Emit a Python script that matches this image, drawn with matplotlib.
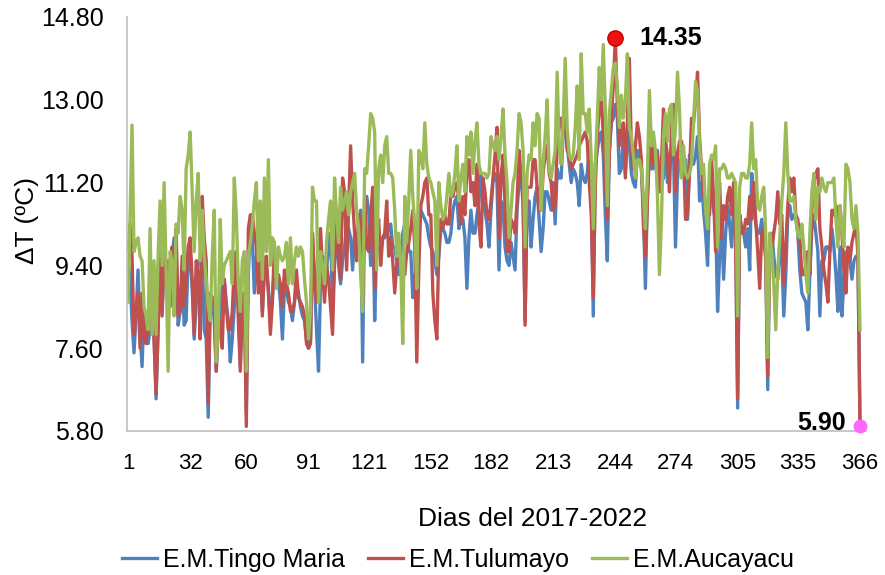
import matplotlib
matplotlib.use("Agg")
import matplotlib.pyplot as plt
import numpy as np

plt.rcParams['font.family'] = ['Liberation Sans', 'DejaVu Sans']

# daily values, day 1..366 (10 per row)
tingo = [
    9.5, 9.1, 8.2, 7.5, 8.3, 9.3, 8.0, 7.2, 8.4, 7.8,
    7.7, 8.0, 8.8, 7.8, 6.5, 8.0, 10.1, 8.4, 9.6, 9.4,
    9.0, 8.5, 9.6, 10.0, 9.7, 8.1, 8.4, 9.3, 8.1, 8.2,
    9.6, 9.6, 8.9, 7.8, 8.6, 9.5, 9.5, 9.7, 8.0, 7.8,
    6.1, 8.5, 8.7, 8.2, 7.1, 8.0, 8.3, 8.9, 9.1, 8.6,
    8.2, 7.3, 7.8, 8.5, 9.5, 9.0, 7.2, 8.6, 8.8, 6.2,
    9.2, 10.3, 10.0, 8.8, 9.6, 9.0, 9.4, 8.4, 9.2, 9.3,
    8.9, 8.2, 8.7, 9.4, 9.0, 9.1, 8.6, 7.8, 8.9, 8.9,
    8.6, 8.5, 8.2, 8.6, 9.0, 8.8, 8.5, 8.3, 8.2, 7.8,
    7.6, 7.8, 10.0, 9.0, 8.0, 7.1, 9.0, 9.6, 9.4, 9.3,
    9.8, 10.1, 8.5, 9.5, 10.1, 9.4, 9.0, 9.5, 9.8, 10.3,
    10.2, 10.0, 9.3, 10.1, 9.7, 9.9, 10.6, 7.3, 10.6, 10.9,
    10.6, 9.4, 10.9, 8.2, 9.8, 9.7, 9.7, 10.0, 10.0, 10.1,
    10.2, 10.3, 9.8, 9.8, 9.5, 9.2, 9.6, 10.1, 10.3, 10.2,
    9.7, 9.7, 8.7, 9.2, 8.8, 10.7, 10.6, 10.5, 10.4, 10.3,
    10.0, 9.8, 9.7, 9.5, 9.2, 9.6, 10.2, 10.2, 10.1, 9.9,
    9.9, 10.1, 10.6, 10.8, 10.9, 10.2, 10.5, 10.4, 10.0, 8.9,
    10.0, 10.6, 10.1, 10.1, 10.5, 10.8, 11.4, 10.8, 10.6, 10.3,
    9.8, 10.6, 11.2, 11.4, 11.2, 9.3, 10.8, 10.7, 9.8, 9.5,
    9.4, 9.9, 9.6, 9.3, 10.6, 11.2, 11.4, 10.7, 8.2, 10.6,
    10.8, 9.8, 10.4, 10.9, 11.1, 10.4, 9.7, 10.2, 11.0, 11.0,
    10.8, 10.6, 11.2, 10.3, 11.5, 11.3, 11.3, 12.3, 12.6, 12.0,
    11.6, 11.2, 11.5, 11.4, 11.2, 10.7, 11.6, 11.3, 11.2, 11.4,
    11.9, 11.0, 8.3, 11.6, 11.9, 12.2, 12.3, 11.8, 10.5, 9.5,
    11.9, 12.5, 12.6, 12.9, 12.6, 11.4, 11.5, 12.3, 11.4, 12.3,
    12.0, 11.4, 11.2, 11.1, 11.9, 11.7, 11.5, 10.6, 8.9, 10.9,
    12.0, 11.5, 11.5, 11.7, 11.9, 11.2, 11.2, 11.3, 12.1, 11.2,
    11.6, 11.7, 11.9, 9.8, 11.3, 11.7, 11.6, 11.4, 11.7, 10.4,
    11.8, 11.7, 11.6, 11.8, 12.2, 10.8, 11.2, 10.6, 10.1, 9.4,
    11.1, 11.0, 10.6, 10.4, 8.4, 9.6, 10.3, 9.1, 10.1, 10.7,
    10.3, 9.8, 10.7, 10.2, 6.3, 10.5, 10.1, 10.1, 9.8, 10.2,
    9.3, 11.4, 11.0, 10.3, 10.1, 10.1, 10.4, 10.0, 9.6, 6.7,
    9.8, 10.1, 9.6, 9.2, 9.1, 9.9, 9.6, 8.3, 9.2, 10.5,
    10.7, 10.4, 10.5, 10.4, 10.1, 9.3, 8.8, 8.7, 8.6, 8.0,
    9.2, 10.2, 10.5, 10.1, 9.7, 8.3, 9.5, 9.5, 9.8, 9.8,
    9.7, 10.2, 9.8, 9.2, 8.4, 9.8, 8.3, 9.1, 9.7, 9.5,
    9.5, 9.1, 9.5, 9.6, 9.5, 6.0,
]

tulumayo = [
    9.7, 10.3, 9.6, 7.9, 8.4, 8.8, 7.6, 8.8, 7.8, 7.7,
    8.1, 8.2, 8.8, 7.8, 6.6, 8.0, 9.5, 8.3, 9.7, 9.0,
    9.5, 8.7, 9.8, 9.2, 10.2, 8.3, 8.4, 9.6, 8.5, 9.2,
    9.8, 10.0, 9.1, 7.9, 9.5, 9.2, 7.8, 10.9, 10.0, 9.5,
    6.4, 8.8, 8.7, 8.5, 7.1, 8.3, 8.2, 7.6, 9.1, 8.5,
    8.0, 8.0, 8.4, 9.4, 9.7, 8.2, 7.1, 8.6, 8.8, 5.9,
    10.2, 10.5, 10.5, 10.1, 9.8, 8.8, 9.6, 8.3, 9.5, 9.6,
    8.8, 7.9, 8.6, 9.8, 9.2, 9.2, 9.0, 8.5, 9.3, 9.0,
    8.8, 8.4, 8.4, 8.6, 9.3, 8.7, 8.6, 8.5, 8.3, 7.7,
    7.6, 7.7, 10.1, 9.2, 8.6, 9.5, 10.2, 9.3, 8.6, 9.4,
    9.1, 8.5, 7.9, 9.5, 10.6, 9.6, 9.1, 11.3, 11.0, 9.3,
    10.6, 12.0, 10.8, 10.1, 9.5, 10.5, 10.4, 8.6, 10.9, 9.8,
    9.7, 10.4, 11.1, 8.9, 10.1, 10.4, 9.4, 10.0, 10.1, 10.8,
    9.6, 10.0, 9.5, 8.8, 9.4, 9.6, 9.5, 9.4, 9.2, 9.7,
    9.9, 10.2, 10.6, 9.8, 7.3, 9.3, 10.7, 10.9, 11.2, 11.3,
    10.5, 10.5, 8.8, 8.2, 7.8, 9.8, 10.4, 10.2, 10.5, 10.3,
    10.3, 11.0, 10.9, 11.1, 11.2, 10.8, 10.3, 10.9, 10.5, 11.5,
    11.7, 11.0, 11.2, 10.7, 11.6, 10.3, 9.8, 11.3, 11.0, 10.5,
    10.4, 10.8, 11.3, 11.8, 12.4, 10.0, 11.3, 11.8, 10.7, 9.7,
    9.7, 10.4, 10.3, 10.1, 10.8, 11.9, 11.4, 11.0, 8.1, 11.1,
    11.1, 11.1, 11.7, 11.7, 11.1, 10.6, 10.6, 11.4, 11.8, 12.0,
    11.4, 11.2, 10.6, 10.7, 12.0, 12.4, 12.6, 12.3, 12.5, 11.9,
    11.8, 11.5, 11.6, 11.7, 11.8, 12.0, 12.1, 12.2, 12.3, 12.1,
    11.2, 10.5, 8.7, 11.1, 12.2, 12.8, 13.1, 12.2, 11.3, 10.4,
    11.8, 12.6, 13.3, 14.35, 12.9, 12.0, 12.3, 12.5, 11.3, 12.5,
    13.9, 11.9, 11.5, 12.0, 12.5, 12.2, 11.7, 10.3, 9.6, 10.8,
    11.8, 12.2, 11.6, 11.8, 11.8, 11.0, 11.6, 12.8, 12.1, 11.8,
    11.0, 12.4, 12.9, 11.0, 11.8, 12.1, 12.1, 11.8, 10.4, 10.5,
    11.4, 12.6, 12.5, 13.0, 13.6, 12.2, 11.5, 11.0, 10.7, 10.6,
    10.5, 11.7, 10.9, 9.7, 10.5, 11.2, 10.0, 10.7, 10.4, 10.9,
    11.1, 10.5, 11.2, 9.9, 6.5, 10.5, 10.2, 10.1, 10.4, 10.3,
    10.9, 10.4, 11.2, 10.4, 9.7, 8.9, 10.1, 10.2, 9.5, 7.0,
    10.0, 9.7, 10.1, 10.4, 11.0, 10.3, 10.5, 9.0, 9.8, 10.7,
    11.3, 11.0, 11.3, 10.5, 10.4, 10.0, 9.2, 9.2, 9.4, 9.7,
    9.2, 10.6, 11.2, 11.4, 11.5, 10.2, 9.8, 9.3, 9.0, 8.6,
    9.7, 10.6, 10.5, 10.7, 10.2, 10.7, 10.1, 9.3, 8.8, 9.8,
    9.5, 9.9, 10.1, 10.3, 9.6, 5.90,
]

aucayacu = [
    8.6, 10.4, 12.45, 9.7, 9.9, 10.0, 9.6, 9.5, 8.5, 8.3,
    8.0, 10.2, 7.9, 9.5, 7.9, 9.6, 10.8, 9.4, 11.2, 9.3,
    7.1, 9.7, 9.5, 8.3, 10.3, 10.1, 10.9, 10.6, 9.3, 11.5,
    11.8, 12.3, 11.0, 9.7, 10.8, 11.4, 9.5, 10.6, 9.6, 9.1,
    8.5, 8.2, 9.6, 10.6, 7.3, 8.0, 10.4, 9.0, 9.4, 9.5,
    9.6, 9.7, 9.0, 11.3, 10.5, 9.0, 8.4, 9.5, 9.7, 7.1,
    9.6, 9.9, 10.3, 10.8, 11.2, 9.5, 10.8, 9.1, 11.3, 9.7,
    11.7, 9.4, 10.0, 9.9, 8.9, 9.8, 9.6, 9.5, 9.6, 9.9,
    9.0, 10.0, 9.0, 9.5, 9.8, 9.6, 9.8, 9.7, 9.1, 8.6,
    7.8, 8.4, 11.1, 10.8, 10.8, 8.6, 9.7, 9.4, 9.0, 9.9,
    10.4, 10.8, 9.3, 11.3, 10.5, 9.9, 11.1, 10.6, 10.8, 11.0,
    10.5, 11.0, 11.2, 11.4, 10.6, 10.2, 9.2, 8.4, 11.5, 11.4,
    12.0, 12.7, 12.6, 12.3, 9.3, 11.5, 11.8, 11.2, 12.0, 12.2,
    11.4, 11.4, 11.3, 10.6, 9.6, 10.1, 9.4, 7.7, 10.9, 9.9,
    10.8, 11.9, 10.9, 10.3, 8.9, 11.9, 11.8, 11.5, 12.5, 11.6,
    11.3, 11.2, 11.0, 10.8, 9.4, 11.2, 10.7, 10.4, 10.5, 10.9,
    11.4, 10.9, 11.0, 11.4, 12.0, 10.8, 11.3, 11.6, 11.0, 12.2,
    11.8, 12.3, 11.4, 12.1, 12.5, 11.6, 11.4, 11.4, 11.4, 11.3,
    11.4, 12.2, 12.0, 11.9, 12.2, 11.7, 12.2, 12.8, 11.8, 11.2,
    10.0, 10.6, 11.2, 11.4, 11.9, 12.7, 12.5, 11.9, 9.8, 11.4,
    11.8, 11.7, 12.5, 12.0, 12.7, 12.6, 10.6, 11.6, 12.2, 13.0,
    11.5, 11.3, 11.6, 11.9, 13.6, 12.0, 11.6, 12.5, 13.9, 12.4,
    11.8, 11.7, 11.8, 12.4, 13.3, 11.7, 14.0, 12.7, 12.7, 12.3,
    12.8, 11.7, 10.2, 11.6, 12.6, 13.7, 13.0, 14.2, 12.8, 10.7,
    12.7, 13.2, 13.7, 13.8, 13.3, 12.4, 13.1, 12.6, 13.0, 14.0,
    12.4, 12.2, 11.8, 11.3, 11.7, 11.7, 11.5, 10.9, 10.2, 11.4,
    13.2, 12.0, 12.3, 11.9, 10.9, 9.2, 10.4, 12.2, 12.7, 12.1,
    12.8, 12.9, 11.8, 12.4, 13.6, 12.8, 11.3, 12.0, 11.4, 11.3,
    11.4, 11.6, 12.5, 13.4, 13.2, 12.0, 11.4, 11.6, 10.6, 10.2,
    11.6, 11.8, 11.7, 12.0, 9.8, 11.5, 11.5, 11.6, 11.5, 11.3,
    11.3, 11.4, 11.3, 11.2, 8.3, 11.1, 11.4, 11.4, 11.3, 11.3,
    11.6, 12.5, 11.5, 11.7, 10.7, 10.6, 10.9, 11.1, 10.1, 7.4,
    10.1, 9.7, 9.0, 8.0, 9.3, 10.0, 10.8, 11.4, 12.5, 11.4,
    10.8, 10.8, 10.9, 10.4, 10.1, 10.0, 10.3, 9.8, 9.2, 8.8,
    10.1, 11.0, 11.4, 10.4, 11.1, 11.0, 11.3, 11.1, 11.0, 11.2,
    11.2, 11.2, 11.3, 10.4, 9.8, 10.7, 10.2, 9.8, 11.6, 11.5,
    11.2, 10.4, 10.2, 10.7, 10.1, 8.0,
]

dias = np.arange(1, len(tingo) + 1)
xticks = [1, 32, 60, 91, 121, 152, 182, 213, 244, 274, 305, 335, 366]
yticks = [5.80, 7.60, 9.40, 11.20, 13.00, 14.80]

fig = plt.figure(figsize=(8.85, 5.75), dpi=100)
ax = fig.add_axes([127 / 885, 1 - 431 / 575, 739 / 885, 414 / 575])

ax.plot(dias, tingo, color='#4F81BD', lw=2.4, label='E.M.Tingo Maria')
ax.plot(dias, tulumayo, color='#C0504D', lw=2.4, label='E.M.Tulumayo')
ax.plot(dias, aucayacu, color='#9BBB59', lw=2.4, label='E.M.Aucayacu')

# max / min markers
imax = int(np.argmax(tulumayo))
ax.plot(dias[imax], tulumayo[imax], 'o', ms=11, color='#EE1111', mec='#C00000', zorder=5, clip_on=False)
ax.text(dias[imax] + 12, tulumayo[imax], f"{tulumayo[imax]:.2f}", fontsize=18, fontweight='bold', va='center')
ax.plot(dias[-1], tulumayo[-1], 'o', ms=9, color='#FF66FF', zorder=5, clip_on=False)
ax.text(dias[-1] - 7, tulumayo[-1] + 0.07, f"{tulumayo[-1]:.2f}", fontsize=18, fontweight='bold', va='center', ha='right')

ax.set_xlim(0.5, 369)
ax.set_ylim(5.8, 14.8)
ax.set_xticks(xticks)
ax.set_yticks(yticks)
ax.set_yticklabels([f"{v:.2f}" for v in yticks])
ax.tick_params(axis='both', length=0, colors='black')
ax.tick_params(axis='x', labelsize=16, pad=16)
ax.tick_params(axis='y', labelsize=18, pad=17)
for s in ['top', 'right']:
    ax.spines[s].set_visible(False)
for s in ['left', 'bottom']:
    ax.spines[s].set_color('#BFBFBF')
    ax.spines[s].set_linewidth(1.2)

fig.text(533 / 885, 1 - 519 / 575, 'Dias del 2017-2022', fontsize=19, ha='center', va='center')
fig.text(27 / 885, 1 - 220 / 575, 'ΔT (ºC)', fontsize=19, ha='center', va='center', rotation=90)

fig.legend(loc='center', bbox_to_anchor=(458 / 885, 1 - 560 / 575), ncol=3, frameon=False,
           fontsize=18, handlelength=1.4, columnspacing=0.9, handletextpad=0.25)

fig.savefig('out.png', dpi=100)
